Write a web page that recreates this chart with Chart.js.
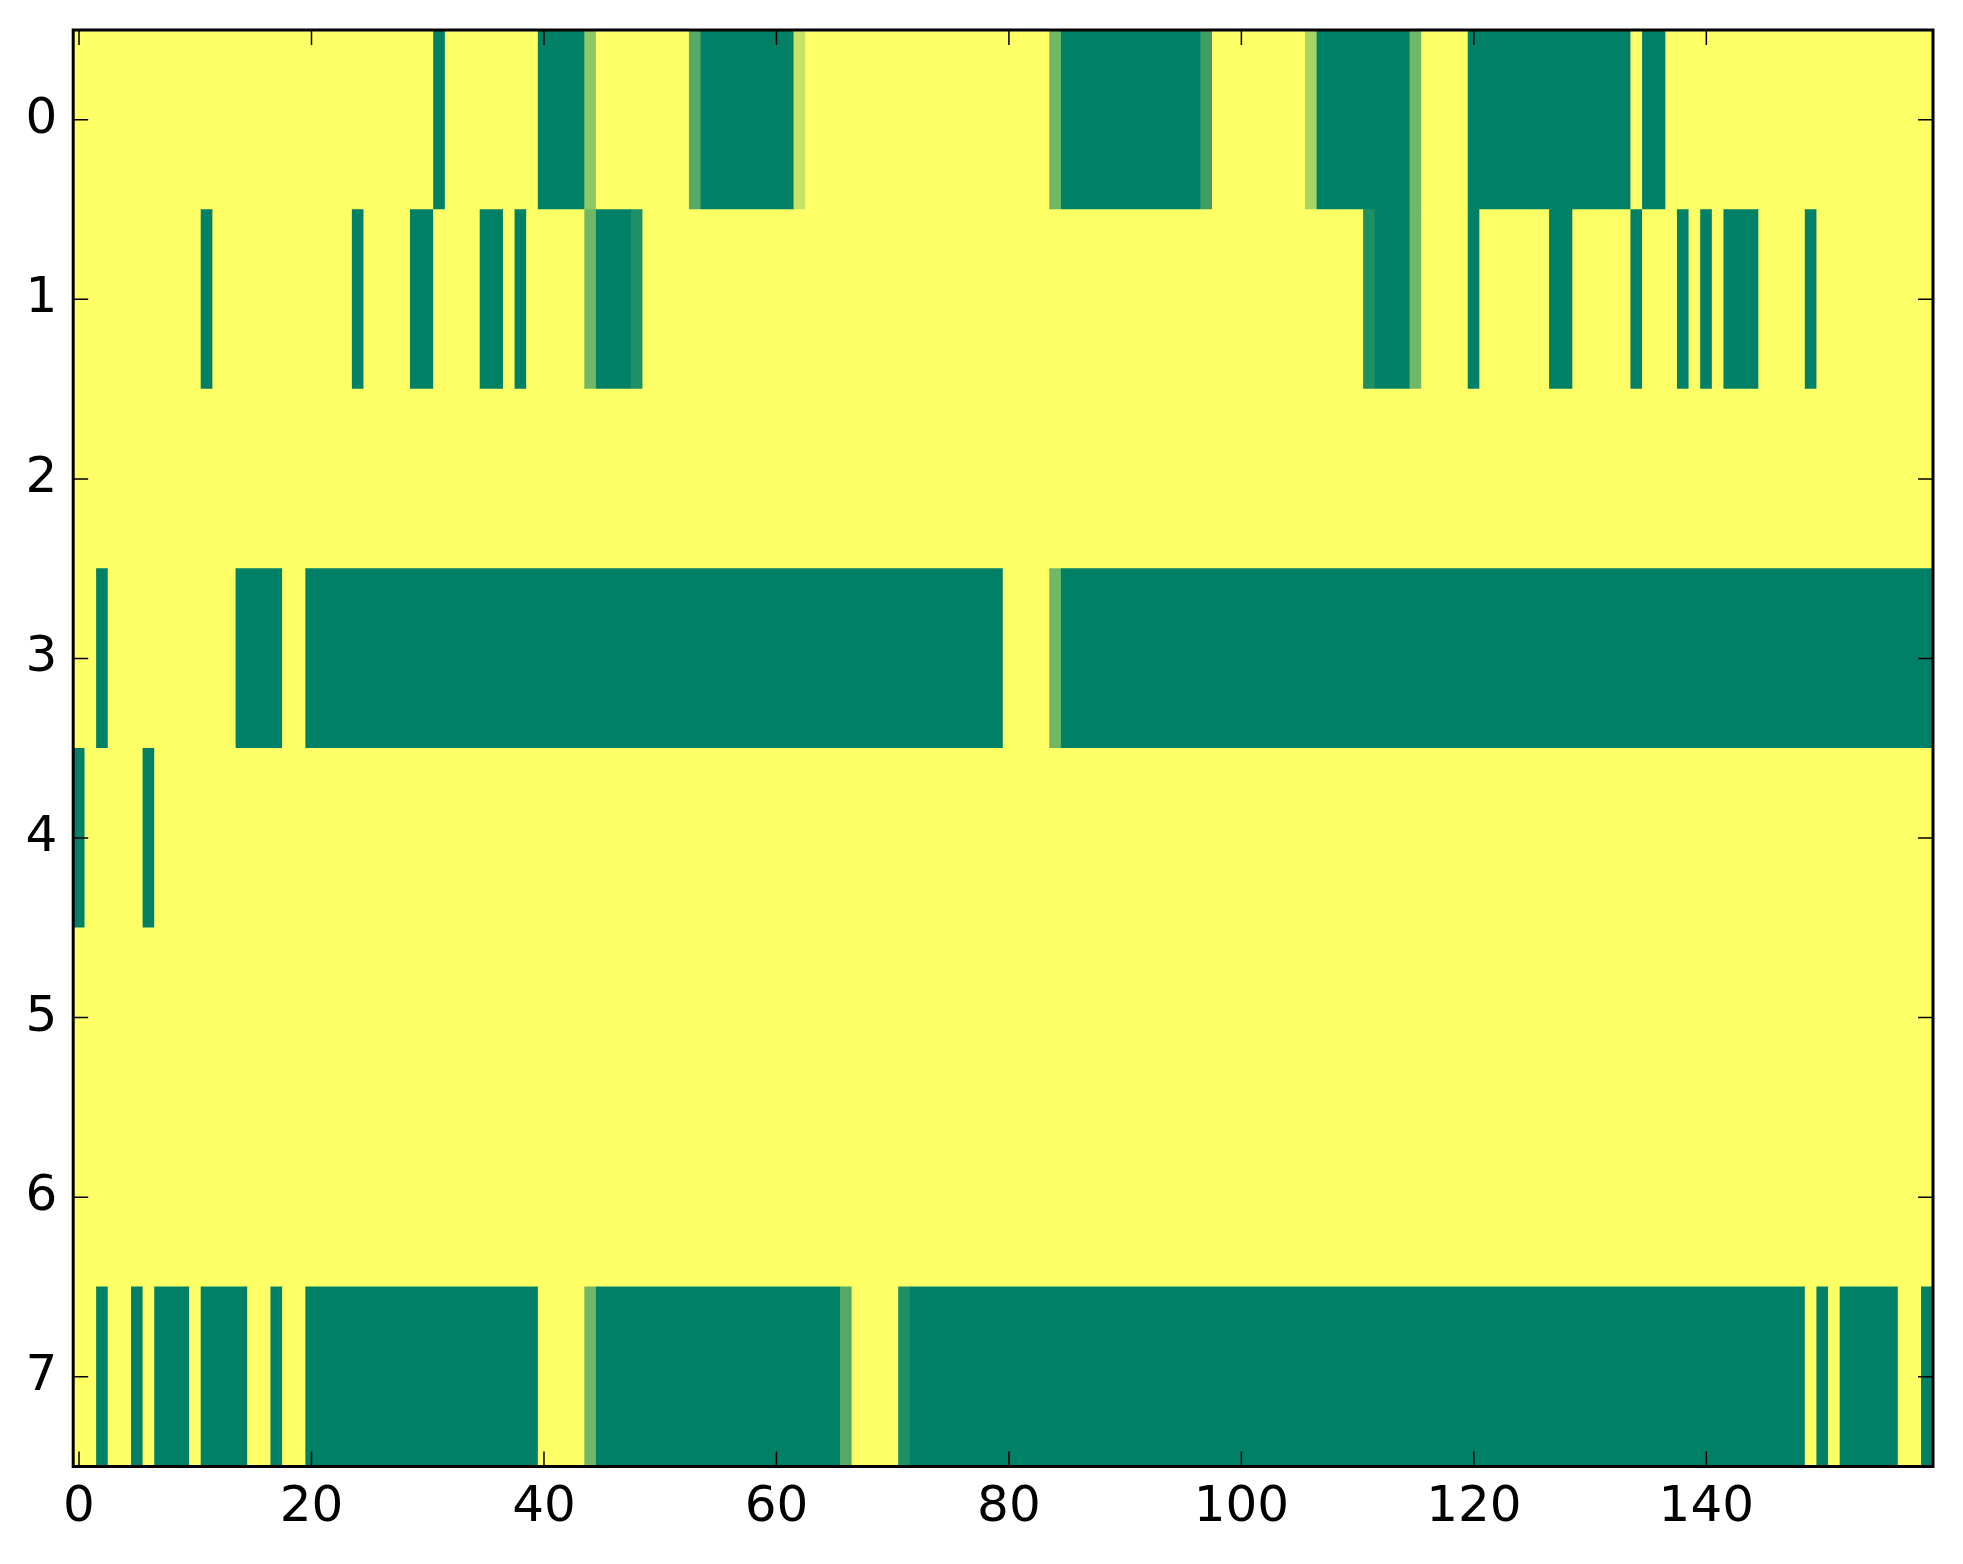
<!DOCTYPE html>
<html><head><meta charset="utf-8">
<script src="https://cdn.jsdelivr.net/npm/chart.js@4.4.1/dist/chart.umd.min.js"></script>
<style>html,body{margin:0;padding:0;background:#fff}#wrap{width:1963px;height:1564px}</style>
</head><body><div id="wrap"><canvas id="c" width="1963" height="1564"></canvas></div>
<script>
// ---- data ----
const nCols = 160;
const rowLabels = ['0','1','2','3','4','5','6','7'];
const xTickValues = [0, 20, 40, 60, 80, 100, 120, 140];
// Non-default cells per row: [firstCol, lastCol, value]; all other cells are 1 (yellow)
const row0 = [[31,31,0],[40,43,0],[44,44,0.56],[53,53,0.33],[54,61,0],[62,62,0.78],[84,84,0.44],[85,96,0],[97,97,0.24],[106,106,0.66],[107,114,0],[115,115,0.44],[120,133,0],[135,136,0]];
const row1 = [[11,11,0],[24,24,0],[29,30,0],[35,36,0],[38,38,0],[44,44,0.44],[45,47,0],[48,48,0.12],[111,111,0.12],[112,114,0],[115,115,0.44],[120,120,0],[127,128,0],[134,134,0],[138,138,0],[140,140,0],[142,144,0],[149,149,0]];
const row2 = [];
const row3 = [[2,2,0],[14,17,0],[20,79,0],[84,84,0.44],[85,159,0]];
const row4 = [[0,0,0],[6,6,0]];
const row5 = [];
const row6 = [];
const row7 = [[2,2,0],[5,5,0],[7,9,0],[11,14,0],[17,17,0],[20,39,0],[44,44,0.44],[45,65,0],[66,66,0.33],[71,71,0.12],[72,148,0],[150,150,0],[152,156,0],[159,159,0]];
const rowRuns = [row0, row1, row2, row3, row4, row5, row6, row7];

// summer colormap
function summer(v) {
  return 'rgb(' + Math.round(255 * v) + ',' + Math.round(255 * (0.5 + 0.5 * v)) + ',102)';
}

// build grid
const grid = rowRuns.map(runs => {
  const r = new Array(nCols).fill(1);
  runs.forEach(([a, b, v]) => { for (let c = a; c <= b; c++) r[c] = v; });
  return r;
});
const bars = [], colors = [];
grid.forEach((r, ri) => {
  let s = 0;
  for (let c = 1; c <= nCols; c++) {
    if (c === nCols || r[c] !== r[s]) {
      bars.push({ y: rowLabels[ri], x: [s - 0.5, c - 0.5] });
      colors.push(summer(r[s]));
      s = c;
    }
  }
});

const tickFont = { family: 'DejaVu Sans', size: 50 };

const framePlugin = {
  id: 'frame',
  afterDraw(chart) {
    const { ctx, chartArea: { left, right, top, bottom }, scales: { x, y } } = chart;
    ctx.save();
    ctx.strokeStyle = '#000';
    ctx.lineWidth = 1.5;
    ctx.beginPath();
    x.ticks.forEach((t, i) => {
      const px = x.getPixelForTick(i);
      ctx.moveTo(px, bottom); ctx.lineTo(px, bottom - 15);
      ctx.moveTo(px, top); ctx.lineTo(px, top + 15);
    });
    y.ticks.forEach((t, i) => {
      const py = y.getPixelForTick(i);
      ctx.moveTo(left, py); ctx.lineTo(left + 15, py);
      ctx.moveTo(right, py); ctx.lineTo(right - 15, py);
    });
    ctx.stroke();
    ctx.lineWidth = 3;
    ctx.strokeRect(left, top, right - left, bottom - top);
    ctx.restore();
  }
};

new Chart(document.getElementById('c'), {
  type: 'bar',
  data: {
    labels: rowLabels,
    datasets: [{
      data: bars,
      backgroundColor: colors,
      borderWidth: 0,
      barPercentage: 1,
      categoryPercentage: 1
    }]
  },
  options: {
    indexAxis: 'y',
    responsive: false,
    animation: false,
    devicePixelRatio: 1,
    layout: { padding: { top: 30, right: 30, left: 0, bottom: 0 } },
    plugins: { legend: { display: false }, tooltip: { enabled: false } },
    scales: {
      x: {
        type: 'linear', min: -0.5, max: 159.5,
        grid: { display: false, drawTicks: false },
        border: { display: false },
        ticks: { font: tickFont, color: '#000', padding: 12, maxRotation: 0 },
        afterBuildTicks: s => { s.ticks = xTickValues.map(v => ({ value: v })); },
        afterFit: s => { s.height = 97.5; s.paddingLeft = 0; s.paddingRight = 0; }
      },
      y: {
        type: 'category', offset: true,
        grid: { display: false, drawTicks: false },
        border: { display: false },
        ticks: { font: tickFont, color: '#000', padding: 16 },
        afterFit: s => { s.width = 73.2; s.paddingTop = 0; s.paddingBottom = 0; }
      }
    }
  },
  plugins: [framePlugin]
});
</script>
</body></html>
